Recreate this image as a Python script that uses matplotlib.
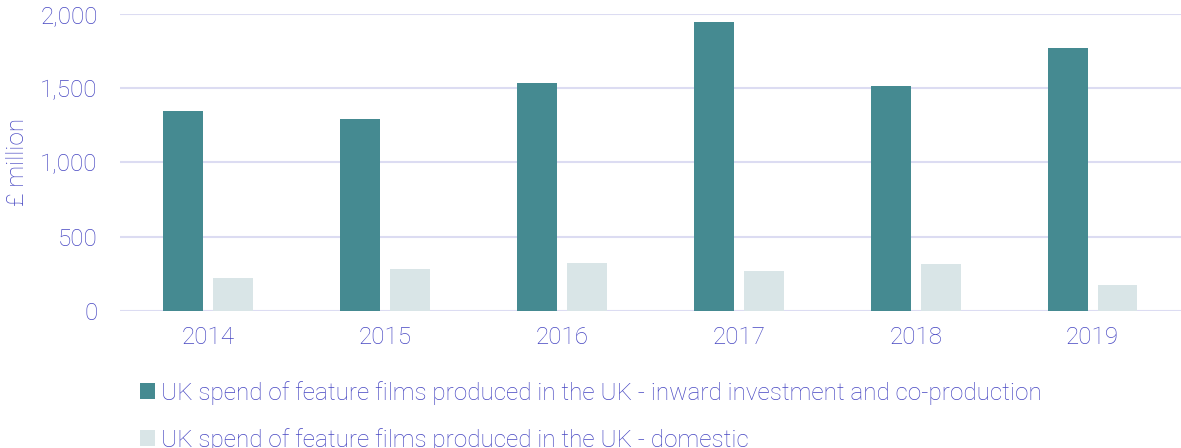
import matplotlib
matplotlib.use("Agg")
import matplotlib.pyplot as plt
import numpy as np

years = ["2014", "2015", "2016", "2017", "2018", "2019"]
inward = [1347, 1293, 1535, 1946, 1515, 1773]
domestic = [224, 283, 323, 269, 316, 173]
series_labels = [
    "UK spend of feature films produced in the UK - inward investment and co-production",
    "UK spend of feature films produced in the UK - domestic",
]

plt.rcParams['font.family'] = ['Roboto', 'DejaVu Sans']
txt = '#4646C2'
teal = '#458A91'
light = '#D9E5E7'
grid = '#DCDCF2'
fs = 17.5
fw = 'light'

fig = plt.figure(figsize=(11.81, 4.48), dpi=100)
ax = fig.add_axes([0.1016, 0.306, 0.8984, 0.663])

x = np.arange(len(years))
w = 0.226
b1 = ax.bar(x - 0.141, inward, w, color=teal, label=series_labels[0], zorder=3)
b2 = ax.bar(x + 0.141, domestic, w, color=light, label=series_labels[1], zorder=3)

ax.set_xlim(-0.5, 5.5)
ax.set_ylim(0, 2000)
ax.set_yticks([0, 500, 1000, 1500, 2000])
ax.set_yticklabels(["0", "500", "1,000", "1,500", "2,000"])
ax.set_xticks(x)
ax.set_xticklabels(years)
ax.yaxis.grid(True, color=grid, linewidth=1.5, zorder=0)
ax.set_axisbelow(True)
for s in ax.spines.values():
    s.set_visible(False)
ax.tick_params(axis='both', length=0, labelsize=fs, labelcolor=txt)
ax.tick_params(axis='y', pad=16)
ax.tick_params(axis='x', pad=11)
for lab in ax.get_xticklabels() + ax.get_yticklabels():
    lab.set_fontweight(fw)
ax.set_ylabel("£ million", fontsize=fs, color=txt, fontweight=fw)
ax.yaxis.set_label_coords(-0.086, 0.5)

leg = fig.legend(handles=[b1, b2], loc='upper left', bbox_to_anchor=(0.11, 0.172),
                 frameon=False, fontsize=fs, handlelength=0.62, handleheight=0.62,
                 handletextpad=0.25, labelspacing=0.95, borderaxespad=0)
for t in leg.get_texts():
    t.set_color(txt)
    t.set_fontweight(fw)

fig.savefig("out.png", dpi=100)
